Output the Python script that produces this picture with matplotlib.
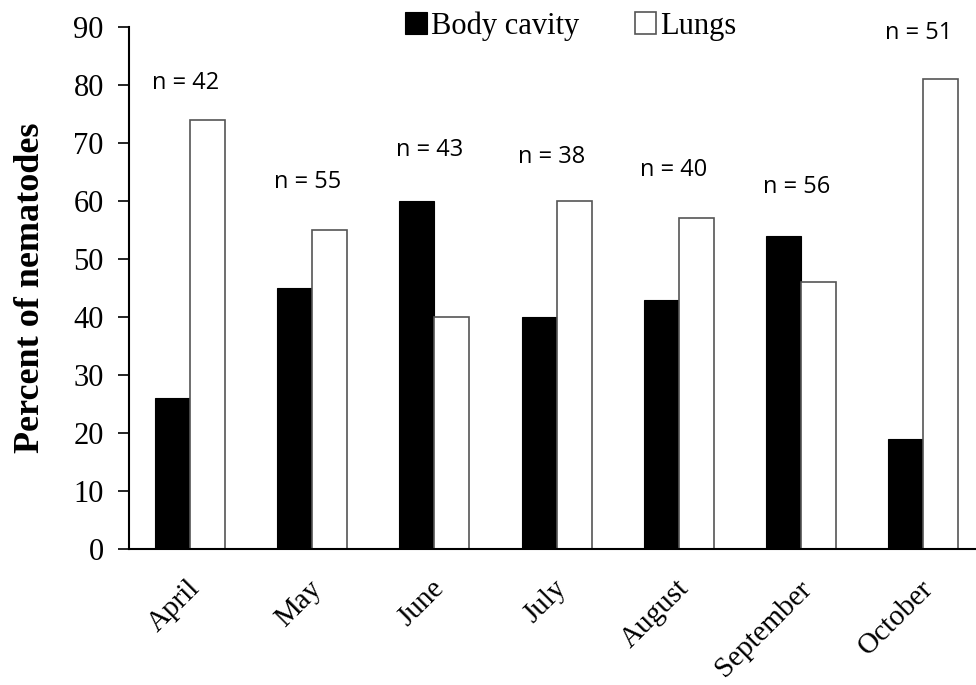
import matplotlib
matplotlib.use("Agg")
import matplotlib.pyplot as plt
import matplotlib.transforms as mtransforms
import numpy as np

months = ["April", "May", "June", "July", "August", "September", "October"]
body_cavity = [26, 45, 60, 40, 43, 54, 19]
lungs = [74, 55, 40, 60, 57, 46, 81]
n_labels = ["n = 42", "n = 55", "n = 43", "n = 38", "n = 40", "n = 56", "n = 51"]
n_label_y = [80.3, 63.3, 68.8, 67.6, 65.3, 62.4, 89]

serif = ["Liberation Serif", "DejaVu Serif"]
fig = plt.figure(figsize=(9.76, 6.85), dpi=100)
ax = fig.add_axes([0.132, 0.1985, 0.868, 0.762])

x = np.arange(len(months))
w = 0.286
ax.bar(x - w/2, body_cavity, w, color="black", edgecolor="black", linewidth=0.8, label="Body cavity")
ax.bar(x + w/2, lungs, w, color="white", edgecolor="#555555", linewidth=1.2, label="Lungs")

for xi, lab, yy in zip(x, n_labels, n_label_y):
    ax.text(xi - 0.04, yy, lab, ha="center", va="center", fontsize=17, family=["Open Sans", "DejaVu Sans"])

ax.set_xlim(-0.5, 6.43)
ax.set_ylim(0, 90)
ax.set_yticks(range(0, 91, 10))
ax.set_xticks(x)
ax.set_xticklabels(months, rotation=45, ha="right", va="center", rotation_mode="anchor",
                   family=serif, fontsize=21)
ax.tick_params(axis="x", length=0, pad=30)
offset = mtransforms.ScaledTranslation(6 / 100, 6 / 100, fig.dpi_scale_trans)
for lbl in ax.get_xticklabels():
    lbl.set_transform(lbl.get_transform() + offset)
ax.tick_params(axis="y", direction="out", length=8, width=1.2, labelsize=22, pad=10)
for t in ax.get_yticklabels():
    t.set_family(serif)
ax.spines["top"].set_visible(False)
ax.spines["right"].set_visible(False)
ax.spines["left"].set_linewidth(1.5)
ax.spines["bottom"].set_linewidth(1.5)
ax.set_ylabel("Percent of nematodes", family=serif, fontsize=26, fontweight="bold", labelpad=19)

leg = ax.legend(loc="upper center", bbox_to_anchor=(0.522, 1.083), ncol=2, frameon=False,
                prop={"family": serif, "size": 22}, handlelength=0.7, handleheight=0.7,
                handletextpad=0.15, columnspacing=1.8)

fig.savefig("out.png", dpi=100)
